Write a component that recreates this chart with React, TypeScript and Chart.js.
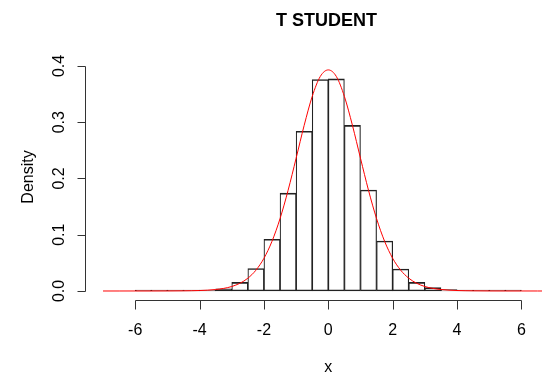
import React, { useEffect, useRef } from "react";
import { Chart, registerables } from "chart.js";

Chart.register(...registerables);

// Histogram bin edges and densities
const binEdges = [-6, -5.5, -5, -4.5, -4, -3.5, -3, -2.5, -2, -1.5, -1, -0.5, 0, 0.5, 1, 1.5, 2, 2.5, 3, 3.5, 4, 4.5, 5, 5.5, 6];
const binDensity = [
  0.0002, 0.0002, 0.0003, 0.0005, 0.0018, 0.004, 0.0154, 0.04, 0.092, 0.174, 0.284, 0.376,
  0.377, 0.2945, 0.1796, 0.0889, 0.0391, 0.0154, 0.0059, 0.0024, 0.0006, 0.0003, 0.0002, 0.0002,
];

// Red density curve
const curveX = [
  -7, -6.5, -6, -5.5, -5, -4.5, -4.25, -4, -3.75, -3.5, -3.25, -3, -2.75, -2.5, -2.25, -2, -1.75, -1.5, -1.25, -1, -0.75, -0.5, -0.25,
  0,
  0.25, 0.5, 0.75, 1, 1.25, 1.5, 1.75, 2, 2.25, 2.5, 2.75, 3, 3.25, 3.5, 3.75, 4, 4.25, 4.5, 5, 5.5, 6, 6.5, 7,
];
const curveY = [
  0.000001, 0.000003, 0.000008, 0.000025, 0.000079, 0.000255, 0.00046, 0.00082, 0.00147, 0.00261, 0.00459, 0.00797, 0.0136, 0.0227, 0.0369, 0.0581, 0.0883, 0.1286, 0.1788, 0.236, 0.2944, 0.3458, 0.3813,
  0.393,
  0.3813, 0.3458, 0.2944, 0.236, 0.1788, 0.1286, 0.0883, 0.0581, 0.0369, 0.0227, 0.0136, 0.00797, 0.00459, 0.00261, 0.00147, 0.00082, 0.00046, 0.000255, 0.000079, 0.000025, 0.000008, 0.000003, 0.000001,
];

// Axis ticks and labels
const xTicks = [-6, -4, -2, 0, 2, 4, 6];
const xTickLabels = ["-6", "-4", "-2", "0", "2", "4", "6"];
const yTicks = [0, 0.1, 0.2, 0.3, 0.4];
const yTickLabels = ["0.0", "0.1", "0.2", "0.3", "0.4"];

const titleText = "T STUDENT";
const xTitle = "x";
const yTitle = "Density";

const FONT = '"Liberation Sans", Arial, Helvetica, sans-serif';

export default function App() {
  const ref = useRef<HTMLCanvasElement>(null);

  useEffect(() => {
    if (!ref.current) return;
    const centers = binDensity.map((_, i) => (binEdges[i] + binEdges[i + 1]) / 2);
    const last = binDensity.length - 1;

    const rAxes = {
      id: "rAxes",
      afterDraw(chart: any) {
        const { ctx, scales, chartArea } = chart;
        const xs = scales.x;
        const ys = scales.y;
        ctx.save();
        ctx.strokeStyle = "#333";
        ctx.fillStyle = "#000";
        ctx.lineWidth = 1;

        // x axis
        const ax = chartArea.bottom - 0.5;
        const xa = Math.round(xs.getPixelForValue(xTicks[0])) + 0.5;
        const xb = Math.round(xs.getPixelForValue(xTicks[xTicks.length - 1])) + 0.5;
        ctx.beginPath();
        ctx.moveTo(xa, ax);
        ctx.lineTo(xb, ax);
        xTicks.forEach((t) => {
          const px = Math.round(xs.getPixelForValue(t)) + 0.5;
          ctx.moveTo(px, ax);
          ctx.lineTo(px, ax + 9);
        });
        ctx.stroke();
        ctx.font = `16px ${FONT}`;
        ctx.textAlign = "center";
        ctx.textBaseline = "alphabetic";
        xTicks.forEach((t, i) => {
          ctx.fillText(xTickLabels[i], xs.getPixelForValue(t), 335);
        });
        ctx.fillText(xTitle, xs.getPixelForValue(0), 372);

        // y axis
        const ay = chartArea.left + 0.5;
        const y0 = Math.round(ys.getPixelForValue(yTicks[0])) + 0.5;
        const y1 = Math.round(ys.getPixelForValue(yTicks[yTicks.length - 1])) + 0.5;
        ctx.beginPath();
        ctx.moveTo(ay, y0);
        ctx.lineTo(ay, y1);
        yTicks.forEach((t) => {
          const py = Math.round(ys.getPixelForValue(t)) + 0.5;
          ctx.moveTo(ay, py);
          ctx.lineTo(ay - 8, py);
        });
        ctx.stroke();
        yTicks.forEach((t, i) => {
          ctx.save();
          ctx.translate(64, ys.getPixelForValue(t));
          ctx.rotate(-Math.PI / 2);
          ctx.fillText(yTickLabels[i], 0, 0);
          ctx.restore();
        });
        ctx.save();
        ctx.translate(33, 177);
        ctx.rotate(-Math.PI / 2);
        ctx.fillText(yTitle, 0, 0);
        ctx.restore();

        // title
        ctx.font = `bold 18px ${FONT}`;
        ctx.fillText(titleText, 326.5, 26);
        ctx.restore();
      },
    };

    const chart = new Chart(ref.current, {
      type: "bar",
      data: {
        datasets: [
          {
            type: "line",
            data: curveX.map((v, i) => ({ x: v, y: curveY[i] })),
            borderColor: "#ff0000",
            borderWidth: 1,
            pointRadius: 0,
            cubicInterpolationMode: "monotone",
            fill: false,
            order: 0,
          } as any,
          {
            type: "bar",
            data: centers.map((c, i) => ({ x: c, y: binDensity[i] })),
            backgroundColor: "rgba(255,255,255,0)",
            borderColor: "#222",
            borderWidth: (c: any) => ({
              top: 1,
              bottom: 1,
              left: c.dataIndex === 0 ? 1 : 0.5,
              right: c.dataIndex === last ? 1 : 0.5,
            }),
            borderSkipped: false,
            barPercentage: 1,
            categoryPercentage: 1,
            minBarLength: 1,
            order: 1,
          } as any,
        ],
      },
      options: {
        responsive: false,
        animation: false,
        devicePixelRatio: 1,
        layout: { padding: { left: 85, right: 0, top: 50, bottom: 75 } },
        plugins: {
          legend: { display: false },
          tooltip: { enabled: false },
          title: { display: false },
        },
        scales: {
          x: { type: "linear", min: -7.56, max: 6.64, offset: false, display: false },
          y: { type: "linear", min: -0.0178, max: 0.4284, display: false },
        },
      } as any,
      plugins: [rAxes],
    });
    return () => chart.destroy();
  }, []);

  return (
    <div style={{ position: "fixed", left: 0, top: 0, width: 542, height: 376, background: "#fff" }}>
      <canvas ref={ref} width={542} height={376} style={{ display: "block", width: 542, height: 376 }} />
    </div>
  );
}
